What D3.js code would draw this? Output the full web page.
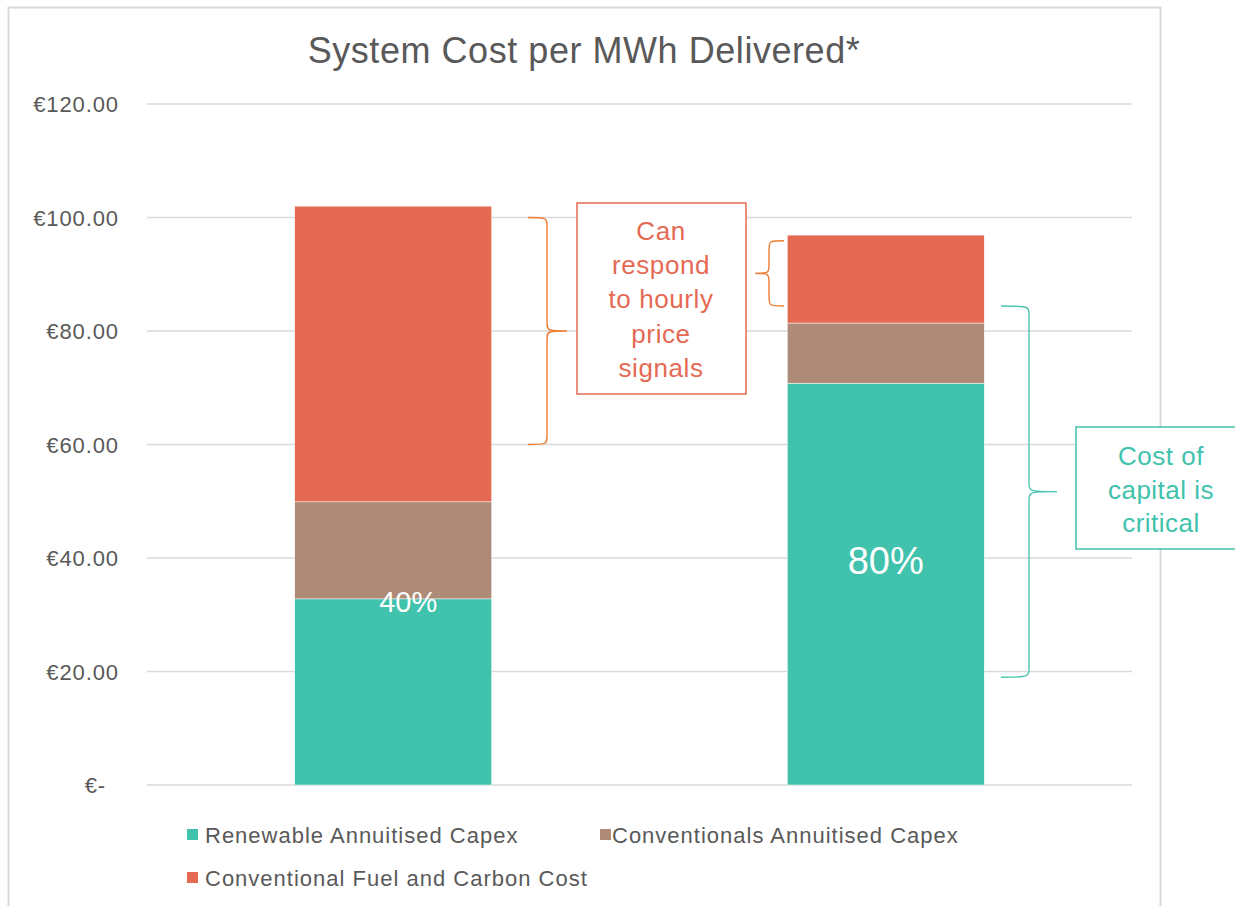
<!DOCTYPE html>
<html><head><meta charset="utf-8">
<script src="https://cdn.jsdelivr.net/npm/d3@7"></script>
<style>body{margin:0;background:#fff;} text{font-family:"Liberation Sans",Arial,sans-serif;}</style>
</head><body>
<svg id="c" width="1235" height="906"></svg>
<script>
const categories = ["Scenario A", "Scenario B"];
const seriesNames = ["Renewable Annuitised Capex", "Conventionals Annuitised Capex", "Conventional Fuel and Carbon Cost"];
const renewableCapex = [32.8, 70.8];
const conventionalCapex = [17.1, 10.6];
const fuelCarbon = [52.1, 15.5];
const shareLabels = ["40%", "80%"];
const shareLabelValues = [30.4, 37.2];
const tickValues = [0, 20, 40, 60, 80, 100, 120];
const tickLabels = ["€-", "€20.00", "€40.00", "€60.00", "€80.00", "€100.00", "€120.00"];
const title = "System Cost per MWh Delivered*";
const note1Lines = ["Can", "respond", "to hourly", "price", "signals"];
const note2Lines = ["Cost of", "capital is", "critical"];
const brace1 = [60, 100];   // bar A fuel range bracket
const brace2 = [84.4, 95.9]; // bar B fuel bracket
const brace3 = [19, 84.4];   // bar B capex bracket

const colors = ["#40c2ac", "#ad8b76", "#e46a54"];
const gray = "#595959";
const svg = d3.select("#c");

// frame
svg.append("rect").attr("x", 8.5).attr("y", 7.5).attr("width", 1152).attr("height", 940)
  .attr("fill", "none").attr("stroke", "#d9d9d9").attr("stroke-width", 2);

const x = d3.scaleBand().domain(categories).range([147, 1132]).paddingInner(0.6).paddingOuter(0.3);
const y = d3.scaleLinear().domain([0, 120]).range([785, 104]);

// grid
svg.append("g").selectAll("line").data(tickValues).join("line")
  .attr("x1", 147).attr("x2", 1132).attr("y1", d => y(d)).attr("y2", d => y(d))
  .attr("stroke", "#d9d9d9").attr("stroke-width", 1.5);

// tick labels
svg.append("g").selectAll("text").data(tickValues).join("text")
  .attr("x", (d, i) => d === 0 ? 106 : 119).attr("y", d => y(d) + 8)
  .attr("text-anchor", "end").attr("fill", gray).attr("font-size", 22).attr("letter-spacing", 0.9)
  .text((d, i) => tickLabels[i]);

// stacked bars
const rows = categories.map((c, i) => ({cat: c, s0: renewableCapex[i], s1: conventionalCapex[i], s2: fuelCarbon[i]}));
const stack = d3.stack().keys(["s0", "s1", "s2"])(rows);
svg.append("g").selectAll("g").data(stack).join("g").attr("fill", (d, i) => colors[i])
  .selectAll("rect").data(d => d).join("rect")
  .attr("x", d => x(d.data.cat)).attr("width", x.bandwidth())
  .attr("y", d => y(d[1])).attr("height", d => y(d[0]) - y(d[1]))
  .attr("stroke", "#fff").attr("stroke-width", 0.5);

// share labels
svg.append("g").selectAll("text").data(categories).join("text")
  .attr("x", d => x(d) + x.bandwidth() / 2 + (d === categories[0] ? 15 : 0))
  .attr("y", (d, i) => y(shareLabelValues[i]))
  .attr("text-anchor", "middle").attr("fill", "#fff")
  .attr("font-size", (d, i) => i === 0 ? 29 : 38)
  .text((d, i) => shareLabels[i]);

// title
svg.append("text").attr("x", 584).attr("y", 63).attr("text-anchor", "middle")
  .attr("fill", gray).attr("font-size", 36).attr("letter-spacing", 0.55).text(title);

// brace path generator
function brace(xb, yTop, yBot, dir, w, tip) {
  const ym = (yTop + yBot) / 2;
  const xv = xb + dir * w, xt = xb + dir * tip;
  const r = 10;
  return `M${xb},${yTop} C${xv},${yTop} ${xv},${yTop} ${xv},${yTop + r}` +
    ` L${xv},${ym - r} C${xv},${ym} ${xv},${ym} ${xt},${ym}` +
    ` C${xv},${ym} ${xv},${ym} ${xv},${ym + r}` +
    ` L${xv},${yBot - r} C${xv},${yBot} ${xv},${yBot} ${xb},${yBot}`;
}
const b = svg.append("g").attr("fill", "none").attr("stroke-width", 1.4);
b.append("path").attr("d", brace(528, y(brace1[1]), y(brace1[0]), 1, 19, 39)).attr("stroke", "#ed7d31");
b.append("path").attr("d", brace(784, y(brace2[1]), y(brace2[0]), -1, 15, 29)).attr("stroke", "#ed7d31");
b.append("path").attr("d", brace(1001, y(brace3[1]), y(brace3[0]), 1, 28, 56)).attr("stroke", "#4cc6b0");

// note boxes
svg.append("rect").attr("x", 577).attr("y", 203).attr("width", 169).attr("height", 191)
  .attr("fill", "#fff").attr("stroke", "#e46a54").attr("stroke-width", 1.5);
svg.append("g").selectAll("text").data(note1Lines).join("text")
  .attr("x", 661).attr("y", (d, i) => 240 + i * 34.2).attr("text-anchor", "middle")
  .attr("fill", "#e46a54").attr("font-size", 26).attr("letter-spacing", 0.6).text(d => d);

svg.append("rect").attr("x", 1076).attr("y", 427).attr("width", 200).attr("height", 122)
  .attr("fill", "#fff").attr("stroke", "#40c2ac").attr("stroke-width", 1.5);
svg.append("g").selectAll("text").data(note2Lines).join("text")
  .attr("x", 1161).attr("y", (d, i) => 465 + i * 33.5).attr("text-anchor", "middle")
  .attr("fill", "#40c2ac").attr("font-size", 26).attr("letter-spacing", 0.5).text(d => d);

// legend
const legPos = [[187, 835], [600, 835], [187, 878]];
const lg = svg.append("g").selectAll("g").data(seriesNames).join("g")
  .attr("transform", (d, i) => `translate(${legPos[i][0]},${legPos[i][1]})`);
lg.append("rect").attr("x", 0).attr("y", -6).attr("width", 11).attr("height", 11).attr("fill", (d, i) => colors[i]);
lg.append("text").attr("x", 18).attr("y", 8).attr("fill", gray).attr("font-size", 22).attr("letter-spacing", 1.0)
  .attr("dx", (d, i) => i === 1 ? -6 : 0).text(d => d);
</script>
</body></html>
